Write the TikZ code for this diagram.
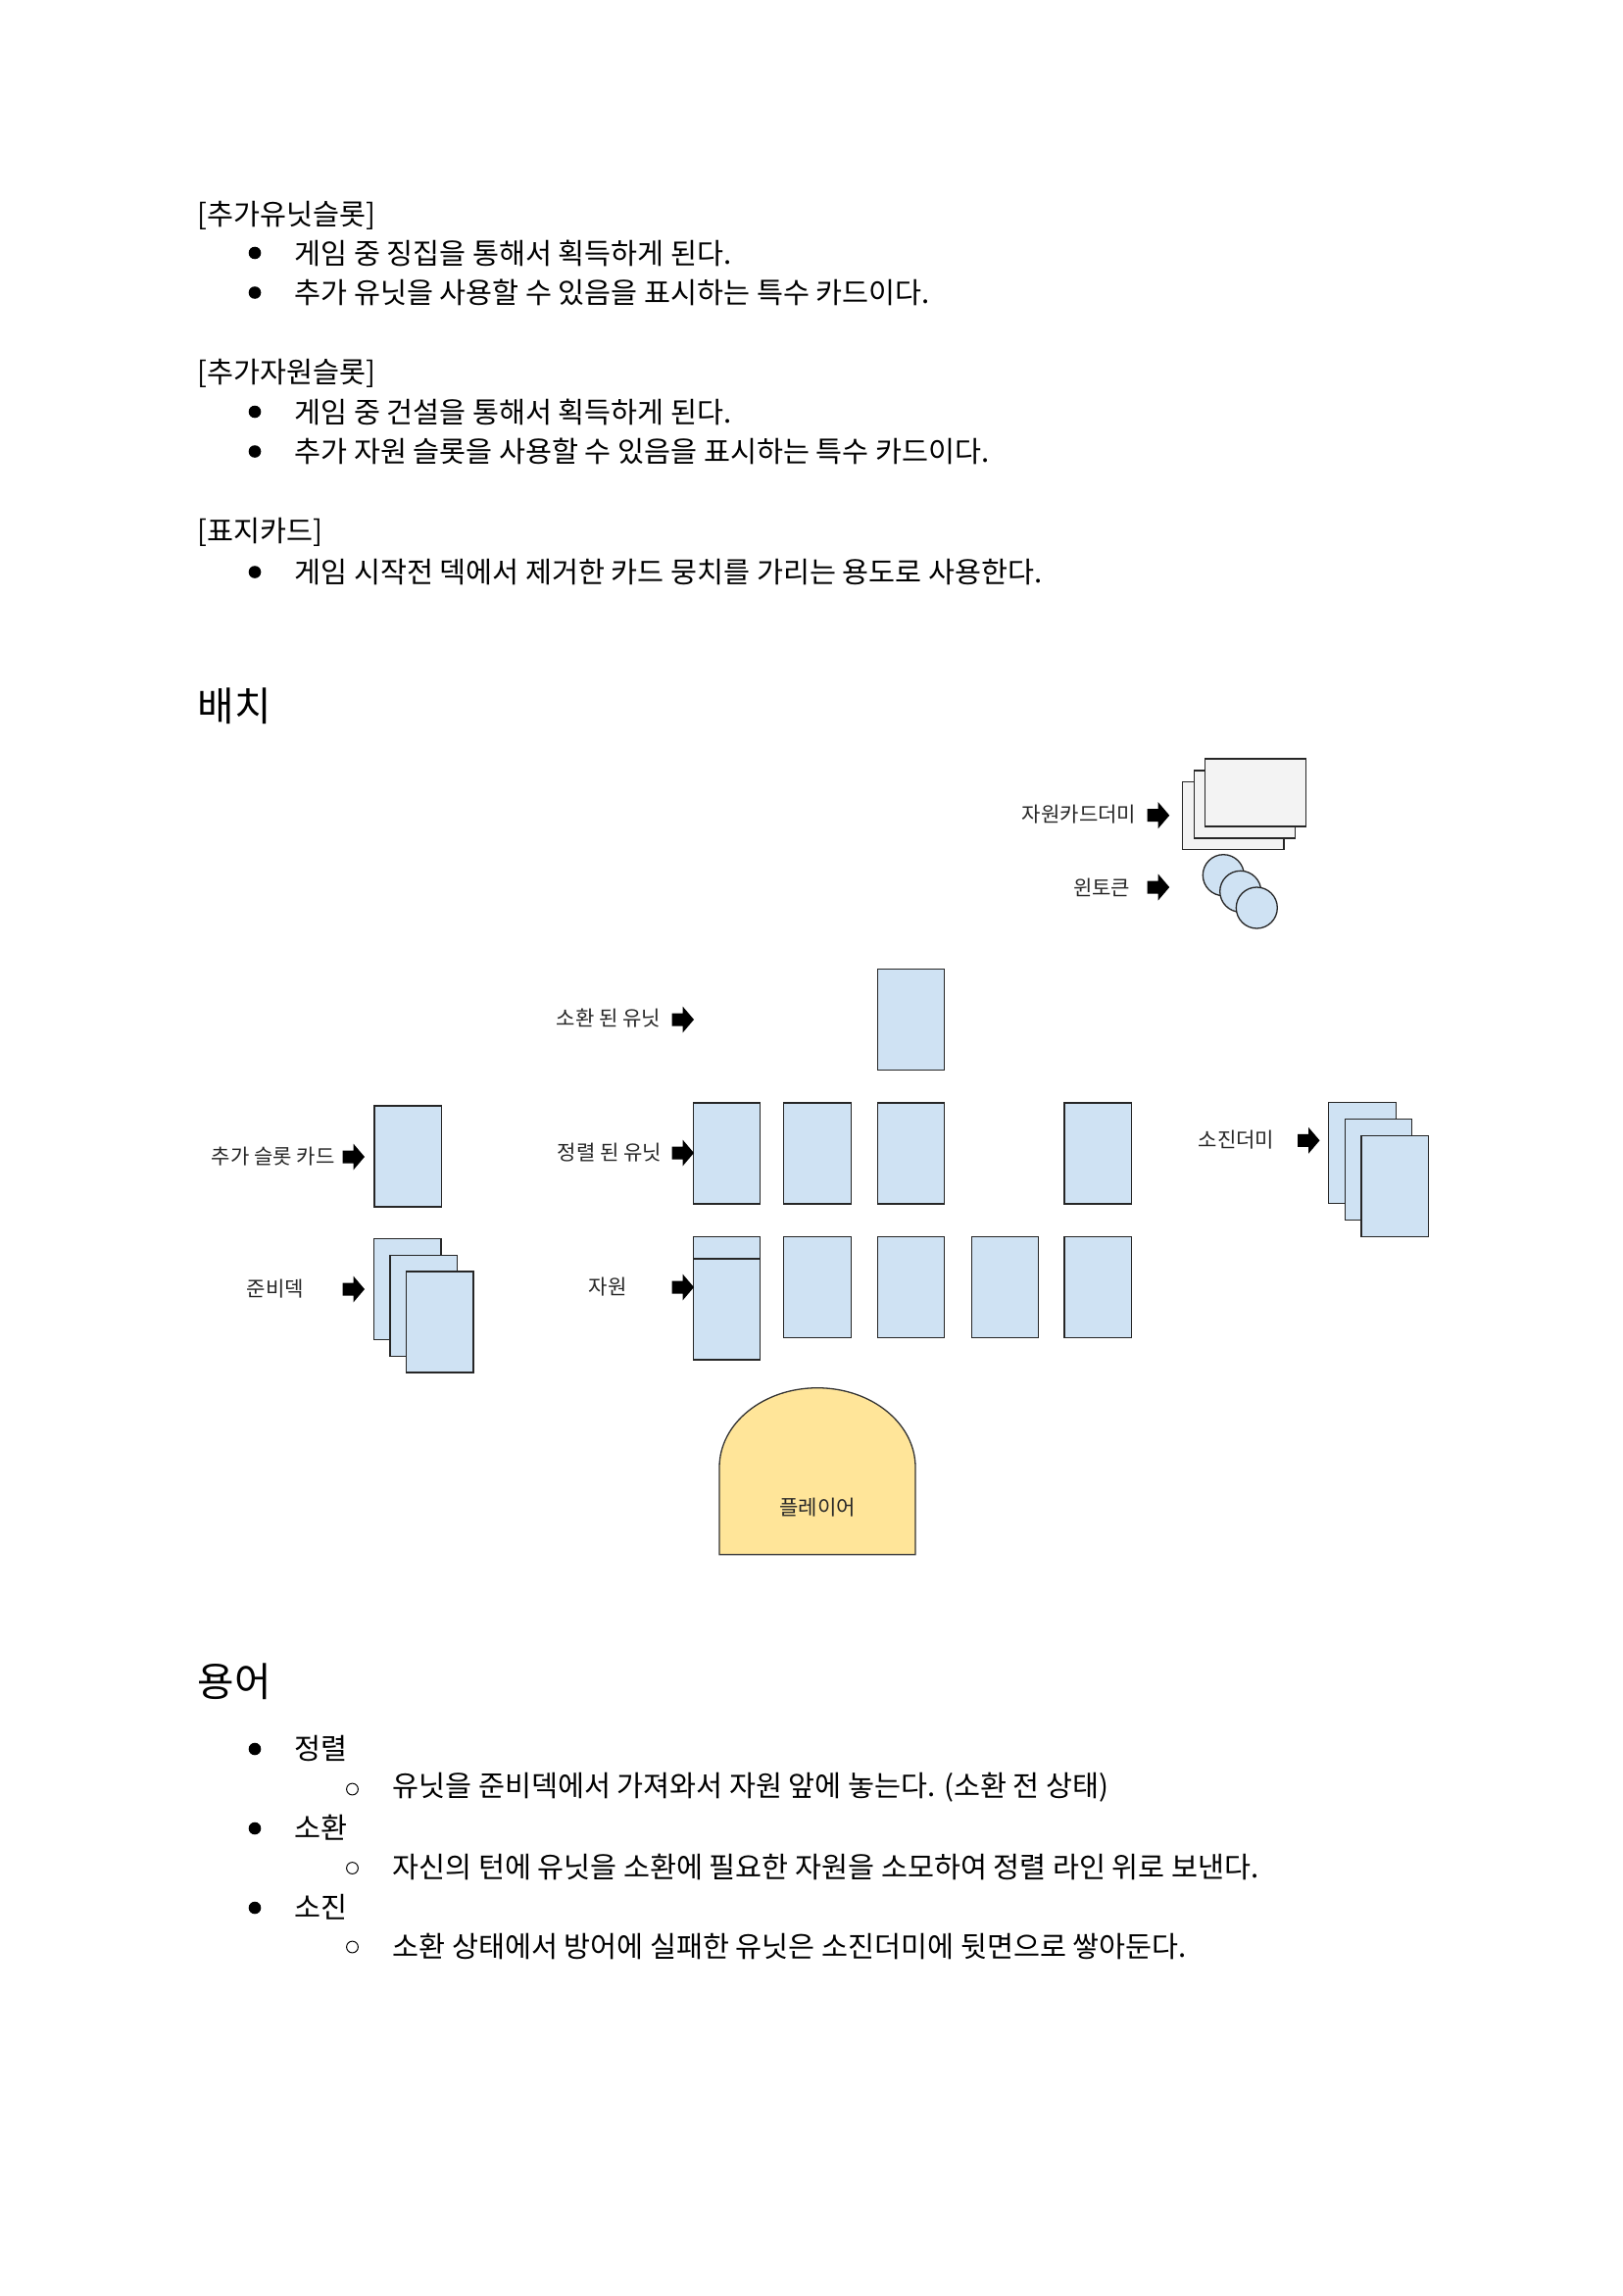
\documentclass[tikz,border=0pt]{standalone}
\usepackage{fontspec}
\setmainfont{Noto Sans CJK KR}
\usetikzlibrary{positioning}
\definecolor{kartenblau}{HTML}{CFE2F3}
\definecolor{stapelgrau}{HTML}{F3F3F3}
\definecolor{spielergelb}{HTML}{FFE599}

\tikzset{
    fliess/.style={anchor=west, inner sep=0pt, font=\fontsize{8.35}{10}\selectfont},
    titel/.style={anchor=west, inner sep=0pt, font=\fontsize{11.6}{13}\selectfont},
    beschr/.style={inner sep=0pt, text=black!85, font=\fontsize{6}{7}\selectfont},
    karte/.style={fill=kartenblau, draw=black!85, line width=0.13mm},
    stapel/.style={fill=stapelgrau, draw=black!85, line width=0.13mm},
    marke/.style={fill=kartenblau, draw=black!85, line width=0.13mm},
    spieler/.style={fill=spielergelb, draw=black!80, line width=0.13mm},
    pfeil/.style={fill=black}
}

\begin{document}
\begin{tikzpicture}[x=0.1mm, y=-0.1mm] % Pixelraster der Vorlage

    \useasboundingbox (0,0) rectangle (1656,2342);

    % Abschnittsueberschriften
    \node[fliess] (hEinheit) at (201,220) {[추가유닛슬롯]};
    \node[fliess] (hRessource) at (201,381) {[추가자원슬롯]};
    \node[fliess] (hDeckblatt) at (201,543) {[표지카드]};
    \node[titel] (hAufbau) at (201,720) {배치};
    \node[titel] (hBegriffe) at (201,1715) {용어};

    % Aufzaehlungspunkte
    \foreach \y in {258, 298.5, 420, 460.5, 583.5, 1784, 1865, 1946} {
        \fill (260,\y) circle (6.3);
    }
    \foreach \y in {1825, 1905.5, 1986} {
        \draw[line width=0.1mm] (359.5,\y) circle (5.9);
    }

    % Fliesstext
    \node[fliess] (t1) at (300,258) {게임 중 징집을 통해서 획득하게 된다.};
    \node[fliess] (t2) at (300,298.5) {추가 유닛을 사용할 수 있음을 표시하는 특수 카드이다.};
    \node[fliess] (t3) at (300,420) {게임 중 건설을 통해서 획득하게 된다.};
    \node[fliess] (t4) at (300,460.5) {추가 자원 슬롯을 사용할 수 있음을 표시하는 특수 카드이다.};
    \node[fliess] (t5) at (300,583.5) {게임 시작전 덱에서 제거한 카드 뭉치를 가리는 용도로 사용한다.};
    \node[fliess] (b1) at (300,1783) {정렬};
    \node[fliess] (b1a) at (400,1823.5) {유닛을 준비덱에서 가져와서 자원 앞에 놓는다. (소환 전 상태)};
    \node[fliess] (b2) at (300,1864) {소환};
    \node[fliess] (b2a) at (400,1904) {자신의 턴에 유닛을 소환에 필요한 자원을 소모하여 정렬 라인 위로 보낸다.};
    \node[fliess] (b3) at (300,1945) {소진};
    \node[fliess] (b3a) at (400,1985) {소환 상태에서 방어에 실패한 유닛은 소진더미에 뒷면으로 쌓아둔다.};

    % Ressourcenstapel (quer) und Siegmarken
    \foreach \x/\y in {1206.7/797.7, 1218.3/786, 1229.3/774} {
        \filldraw[stapel] (\x,\y) rectangle ++(103.4,69);
    }
    \foreach \x/\y in {1248.3/892.7, 1265.7/909.3, 1282.3/926} {
        \filldraw[marke] (\x,\y) circle (21);
    }

    % Karten: Einheiten, Ressourcen, Zusatzslot, Vorratsdeck, Ablage
    \foreach \x/\y in {895.3/988.3, 707.3/1125, 799.7/1125, 895.3/1125, 1086/1125,
                       707.3/1261.3, 707.3/1284, 799.7/1261.3, 895.3/1261.3, 991.3/1261.3, 1086/1261.3,
                       382/1128, 381.5/1263.3, 398/1280.3, 414.5/1297,
                       1355.7/1124.3, 1372.3/1141.7, 1389/1158.3} {
        \filldraw[karte] (\x,\y) rectangle ++(68.5,103);
    }

    % Blockpfeile
    \foreach \x/\y in {1170.7/831.7, 1170.7/905, 685.5/1040, 685.5/1176, 685.5/1313,
                       349.5/1180, 349.5/1315, 1324/1163.3} {
        \fill[pfeil] (\x,\y-6.5) -- (\x+11,\y-6.5) -- (\x+11,\y-13.5) -- (\x+22.5,\y)
            -- (\x+11,\y+13.5) -- (\x+11,\y+6.5) -- (\x,\y+6.5) -- cycle;
    }

    % Beschriftungen
    \node[beschr, anchor=east] (lRessDeck) at (1160,831) {자원카드더미};
    \node[beschr, anchor=east] (lMarke) at (1154,905) {윈토큰};
    \node[beschr, anchor=east] (lBeschworen) at (675,1039) {소환 된 유닛};
    \node[beschr, anchor=east] (lAufgereiht) at (676,1176) {정렬 된 유닛};
    \node[beschr, anchor=east] (lZusatz) at (342.5,1180) {추가 슬롯 카드};
    \node[beschr] (lVorrat) at (281,1315) {준비덱};
    \node[beschr] (lRess) at (620,1313) {자원};
    \node[beschr] (lAblage) at (1261.5,1163) {소진더미};

    % Spieler
    \filldraw[spieler] (734,1585.7) -- (734,1496.7)
        arc[start angle=180, end angle=360, x radius=100, y radius=81] -- (934,1585.7) -- cycle;
    \node[beschr] (lSpieler) at (834,1538) {플레이어};

\end{tikzpicture}
\end{document}
